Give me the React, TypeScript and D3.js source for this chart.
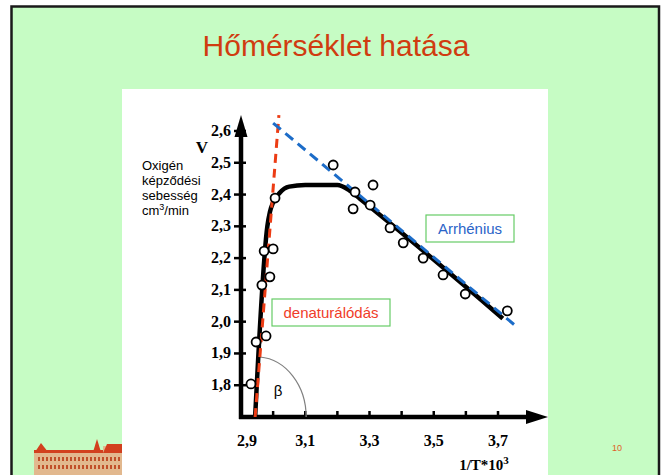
import React from "react";
import * as d3 from "d3";

// axis ticks
const xTicks = [2.9, 3.1, 3.3, 3.5, 3.7];
const xMinorTicks = [3.0, 3.1, 3.2, 3.3, 3.4, 3.5, 3.6, 3.7];
const yTicks = [1.8, 1.9, 2.0, 2.1, 2.2, 2.3, 2.4, 2.5, 2.6];

// measured points (1/T*10^3, V)
const measuredX = [2.931, 2.947, 2.978, 2.965, 2.99, 2.972, 3.0, 3.006, 3.187, 3.255, 3.311, 3.249, 3.302, 3.364, 3.405, 3.467, 3.529, 3.598, 3.729];
const measuredY = [1.804, 1.936, 1.955, 2.115, 2.141, 2.222, 2.229, 2.389, 2.493, 2.408, 2.43, 2.355, 2.367, 2.295, 2.248, 2.2, 2.147, 2.087, 2.034];

// fitted curve through the points
const fitX = [2.944, 2.982, 2.99, 3.0, 3.02, 3.05, 3.1, 3.2, 3.235, 3.27, 3.715];
const fitY = [1.7, 2.3, 2.345, 2.375, 2.405, 2.425, 2.43, 2.43, 2.415, 2.387, 2.01];

// denaturation line and Arrhenius line
const denatX = [2.944, 3.018];
const denatY = [1.7, 2.65];
const arrhX = [3.0, 3.763];
const arrhY = [2.625, 1.98];

const fmt = (v: number) => v.toFixed(1).replace(".", ",");

const serif = "'Liberation Serif', 'Times New Roman', serif";
const sans = "'Liberation Sans', Arial, sans-serif";

function App() {
  const x = d3.scaleLinear().domain([2.9, 3.7]).range([241, 498]);
  const y = d3.scaleLinear().domain([1.7, 2.6]).range([417, 131]);

  const line = d3
    .line<[number, number]>()
    .x((d) => x(d[0]))
    .y((d) => y(d[1]));
  const smooth = d3
    .line<[number, number]>()
    .x((d) => x(d[0]))
    .y((d) => y(d[1]))
    .curve(d3.curveMonotoneX);

  const zip = (a: number[], b: number[]) => a.map((v, i) => [v, b[i]] as [number, number]);

  const x0 = x(2.9);
  const y0 = y(1.7);

  // beta arc from the denaturation line down to the x axis
  const bx = x(denatX[0]);
  const arcTop = y0 - 60;
  const arcTopX = bx + (60 * (x(denatX[1]) - bx)) / (y0 - y(denatY[1]));
  const arcPath = `M${arcTopX},${arcTop} A50,60 0 0 1 ${bx + 51},${y0}`;

  const windowsX = d3.range(38, 120, 4);

  return (
    <svg width={666} height={475} style={{ position: "absolute", left: 0, top: 0 }}>
      <rect x={0} y={0} width={666} height={475} fill="#ffffff" />
      <rect x={11.5} y={6.5} width={647.5} height={480} fill="#c6fcc4" stroke="#1a1a1a" strokeWidth={2.5} />
      <rect x={122} y={89} width={426} height={400} fill="#ffffff" />

      <text x={336} y={56} textAnchor="middle" fontFamily={sans} fontSize={30} fill="#d03c10">
        Hőmérséklet hatása
      </text>

      {/* logo */}
      <g>
        <rect x={34} y={452} width={70} height={23} fill="#e2b88e" />
        <rect x={34} y={450} width={70} height={3} fill="#d2401e" />
        <polygon points="35,452 41,443 48,452" fill="#d2401e" />
        <polygon points="93,452 97,439 101,452" fill="#d2401e" />
        <rect x={103} y={446} width={19} height={29} fill="#e2b88e" />
        <polygon points="103,453 107,444 122,444 122,453" fill="#d2401e" />
        {windowsX.map((wx, i) => (
          <g key={`w${i}`}>
            <rect x={wx} y={457} width={2} height={4} fill="#c0502a" />
            <rect x={wx} y={465} width={2} height={4} fill="#c0502a" />
          </g>
        ))}
      </g>

      <text x={617} y={451} textAnchor="middle" fontFamily={sans} fontSize={9} fill="#e0602a">
        10
      </text>

      {/* y axis labels */}
      <text x={202} y={153} textAnchor="middle" fontFamily={serif} fontWeight="bold" fontSize={17}>
        V
      </text>
      <g fontFamily={sans} fontSize={13} fill="#000">
        <text x={142} y={170}>Oxigén</text>
        <text x={142} y={185}>képződési</text>
        <text x={142} y={200}>sebesség</text>
        <text x={142} y={215}>
          cm<tspan dy={-5} fontSize={9}>3</tspan>
          <tspan dy={5}>/min</tspan>
        </text>
      </g>
      {yTicks.map((t, i) => (
        <g key={`yt${i}`}>
          <line x1={x0 - 7} x2={x0 + 5} y1={y(t)} y2={y(t)} stroke="#000" strokeWidth={2.5} />
          <text x={231} y={y(t) + 5} textAnchor="end" fontFamily={serif} fontWeight="bold" fontSize={16}>
            {fmt(t)}
          </text>
        </g>
      ))}

      {/* x axis */}
      {xMinorTicks.map((t, i) => (
        <line key={`xt${i}`} x1={x(t)} x2={x(t)} y1={y0 - 6} y2={y0 + 2} stroke="#000" strokeWidth={2.5} />
      ))}
      {xTicks.map((t, i) => (
        <text key={`xl${i}`} x={x(t) + (i === 0 ? 6 : 0)} y={446} textAnchor="middle" fontFamily={serif} fontWeight="bold" fontSize={16}>
          {fmt(t)}
        </text>
      ))}
      <text x={484} y={470} textAnchor="middle" fontFamily={serif} fontWeight="bold" fontSize={15}>
        1/T*10<tspan dy={-6} fontSize={11}>3</tspan>
      </text>

      <line x1={x0} x2={x0} y1={y0 + 2} y2={133} stroke="#000" strokeWidth={4.5} />
      <polygon points={`${x0},115 ${x0 - 6.5},137 ${x0 + 6.5},137`} fill="#000" />
      <line x1={x0 - 2} x2={530} y1={y0} y2={y0} stroke="#000" strokeWidth={4.5} />
      <polygon points={`548,${y0} 526,${y0 - 7} 526,${y0 + 7}`} fill="#000" />

      {/* beta angle */}
      <path d={arcPath} fill="none" stroke="#808080" strokeWidth={1.2} />
      <text x={278} y={396} textAnchor="middle" fontFamily={sans} fontSize={15}>
        β
      </text>

      {/* curves */}
      <path d={smooth(zip(fitX, fitY)) || ""} fill="none" stroke="#000" strokeWidth={4.5} />
      <path d={line(zip(denatX, denatY)) || ""} fill="none" stroke="#ec3c14" strokeWidth={3} strokeDasharray="9,6" />
      <path d={line(zip(arrhX, arrhY)) || ""} fill="none" stroke="#1c6cc8" strokeWidth={3} strokeDasharray="10,6" />

      {measuredX.map((v, i) => (
        <circle key={`p${i}`} cx={x(v)} cy={y(measuredY[i])} r={4.5} fill="#fff" stroke="#000" strokeWidth={1.8} />
      ))}

      {/* boxed labels */}
      <rect x={426} y={215} width={88} height={27} fill="#fff" stroke="#66cc66" strokeWidth={1.2} />
      <text x={470} y={234} textAnchor="middle" fontFamily={sans} fontSize={15} fill="#2a64c8">
        Arrhénius
      </text>
      <rect x={272} y={299} width={118} height={27} fill="#fff" stroke="#66cc66" strokeWidth={1.2} />
      <text x={331} y={318} textAnchor="middle" fontFamily={sans} fontSize={15} fill="#f03c28">
        denaturálódás
      </text>
    </svg>
  );
}

export default App;
